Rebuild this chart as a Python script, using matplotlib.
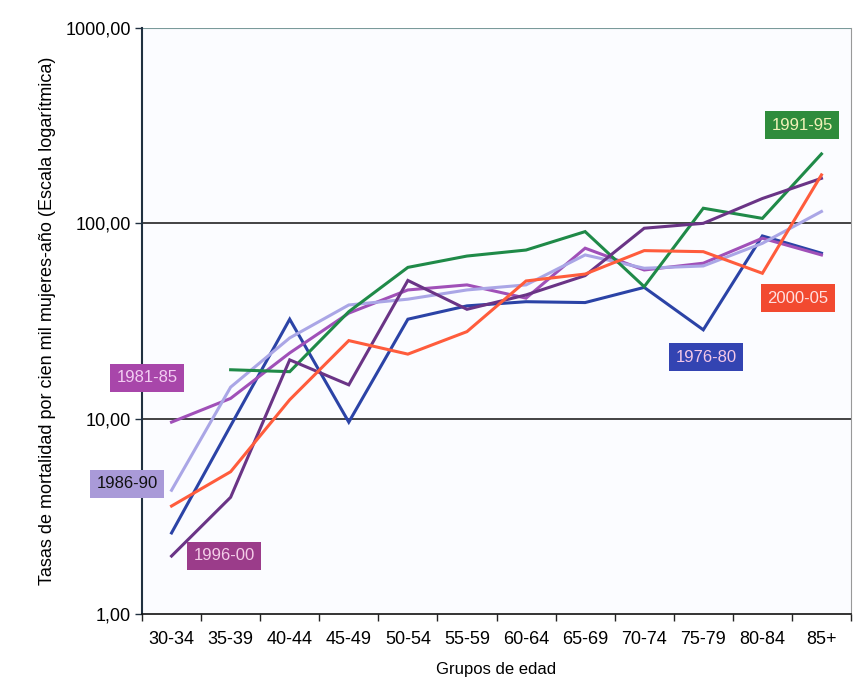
import matplotlib
matplotlib.use("Agg")
import matplotlib.pyplot as plt
from matplotlib.ticker import FixedLocator, FuncFormatter, NullFormatter

plt.rcParams['font.family'] = ['Liberation Sans', 'DejaVu Sans']

age_groups = ["30-34", "35-39", "40-44", "45-49", "50-54", "55-59", "60-64",
              "65-69", "70-74", "75-79", "80-84", "85+"]

rates_1976_80 = [2.6, 9.2, 32.3, 9.6, 32.3, 37.8, 39.7, 39.3, 47.0, 28.5, 86.2, 70.3]
rates_1981_85 = [9.6, 12.7, 21.7, 34.7, 45.6, 48.4, 41.4, 74.6, 57.7, 62.5, 83.9, 68.9]
rates_1986_90 = [4.3, 14.5, 25.9, 38.2, 40.9, 45.6, 48.4, 68.9, 58.9, 60.5, 79.0, 115.0]
rates_1991_95 = [None, 17.8, 17.4, 35.3, 59.5, 68.0, 73.0, 90.7, 47.4, 119.5, 106.0, 226.6]
rates_1996_00 = [1.98, 3.96, 20.0, 14.9, 51.0, 36.3, 43.0, 54.0, 94.4, 100.0, 134.0, 170.0]
rates_2000_05 = [3.57, 5.35, 12.5, 25.1, 21.4, 27.9, 50.7, 55.0, 72.5, 71.6, 55.5, 177.0]

series = [
    ("1976-80", rates_1976_80, "#2b43a6"),
    ("1981-85", rates_1981_85, "#a050b8"),
    ("1986-90", rates_1986_90, "#aaa6e6"),
    ("1991-95", rates_1991_95, "#1f8a48"),
    ("1996-00", rates_1996_00, "#6a3486"),
    ("2000-05", rates_2000_05, "#ff5c3c"),
]

W, H = 860, 681
fig = plt.figure(figsize=(W / 100, H / 100), dpi=100)
fig.patch.set_facecolor("white")
ax = fig.add_axes([142 / W, (H - 614) / H, 709 / W, 586 / H])
ax.set_facecolor("#fbfcff")

x = list(range(len(age_groups)))
for name, vals, color in series:
    xs = [i for i, v in zip(x, vals) if v is not None]
    ys = [v for v in vals if v is not None]
    ax.plot(xs, ys, color=color, lw=2.2, solid_joinstyle="miter", zorder=3)

ax.set_yscale("log")
ax.set_ylim(1, 1000)
ax.set_xlim(-0.5, len(age_groups) - 0.5)

# horizontal gridlines at the decades
for yv in (10, 100):
    ax.axhline(yv, color="#111111", lw=1.1, zorder=2)
ax.axhline(1000, color="#7a9a9a", lw=0.8, zorder=2)

ax.yaxis.set_major_locator(FixedLocator([1, 10, 100, 1000]))
ax.yaxis.set_minor_locator(FixedLocator([]))
ax.yaxis.set_major_formatter(FuncFormatter(lambda v, p: f"{v:.2f}".replace(".", ",")))
ax.tick_params(axis="y", which="major", direction="out", length=5, width=1.0,
               labelsize=13, pad=3, color="#203040")

ax.set_xticks(x)
ax.set_xticklabels(age_groups)
ax.set_xticks([i - 0.5 for i in range(len(age_groups) + 1)], minor=True)
ax.xaxis.set_minor_formatter(NullFormatter())
ax.tick_params(axis="x", which="major", length=0, labelsize=13, pad=12)
ax.tick_params(axis="x", which="minor", direction="out", length=5, width=1.0, color="#222222")

ax.spines["top"].set_visible(False)
ax.spines["right"].set_color("#999999")
ax.spines["right"].set_linewidth(0.8)
ax.spines["left"].set_color("#203040")
ax.spines["left"].set_linewidth(1.5)
ax.spines["bottom"].set_color("#111111")
ax.spines["bottom"].set_linewidth(1.2)

ax.set_xlabel("Grupos de edad", fontsize=12, labelpad=10)
ax.set_ylabel("Tasas de mortalidad por cien mil mujeres-año (Escala logarítmica)",
              fontsize=13, labelpad=7)

# series labels in coloured boxes
labels = [
    ("1991-95", 802, 125, "#2f8c3c", "#f2f2b8"),
    ("2000-05", 798, 298, "#f24a30", "#ffe0e0"),
    ("1976-80", 706, 357, "#3344b2", "#f4c8e8"),
    ("1981-85", 147, 378, "#a846aa", "#f2cdf2"),
    ("1986-90", 127, 484, "#a99ad8", "#111111"),
    ("1996-00", 224, 556, "#9b3c8a", "#f4cde8"),
]
for text, px, py, bg, fg in labels:
    fig.text(px / W, 1 - py / H, text, ha="center", va="center", fontsize=12,
             color=fg, zorder=5,
             bbox=dict(boxstyle="square,pad=0.4", facecolor=bg, edgecolor="none"))

fig.savefig("out.png", dpi=100)
